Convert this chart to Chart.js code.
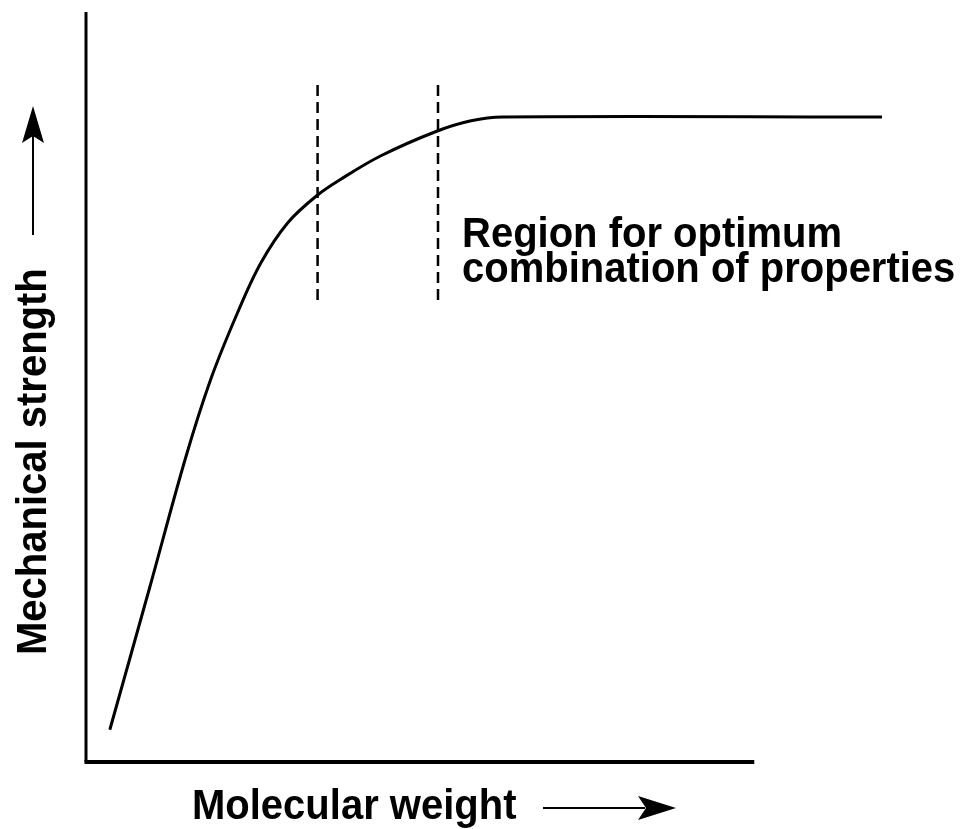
<!DOCTYPE html>
<html>
<head>
<meta charset="utf-8">
<script src="https://cdn.jsdelivr.net/npm/chart.js@4.4.1/dist/chart.umd.min.js"></script>
<style>
  html, body { margin: 0; padding: 0; background: #fff; }
  canvas { display: block; }
</style>
</head>
<body>
<canvas id="mw-chart" width="978" height="829"></canvas>
<script>
// curve (arbitrary units)
const curveX = [0.36, 0.97, 1.5, 1.88, 2.29, 2.64, 3.05, 3.5, 3.85, 4.45, 5.3, 5.82, 6.3, 12.03];
const curveY = [0.43, 2.35, 4.04, 5.09, 5.99, 6.65, 7.19, 7.56, 7.77, 8.08, 8.41, 8.55, 8.6, 8.6];

// dashed lines bounding the optimum region
const markerX = [3.5, 5.32];
const markerY = [6.16, 9.08];

// extent of the drawn axes
const axisX = [0, 10.1];
const axisY = [0, 10];

const regionLabel = ['Region for optimum', 'combination of properties'];
const xLabel = 'Molecular weight';
const yLabel = 'Mechanical strength';

const FONT = 'bold 40px "Liberation Sans", Arial, sans-serif';

// text in the figure is a touch taller than Arial
function tallText(ctx, text, x, y) {
  ctx.save();
  ctx.translate(x, y);
  ctx.scale(1, 1.06);
  ctx.fillText(text, 0, 0);
  ctx.restore();
}

function createChart() {
  const el = document.getElementById('mw-chart');

  const sketchPlugin = {
    id: 'sketchAxes',
    beforeDatasetsDraw(chart) {
      const { ctx } = chart;
      const xs = chart.scales.x;
      const ys = chart.scales.y;
      const x0 = xs.getPixelForValue(axisX[0]);
      const x1 = xs.getPixelForValue(axisX[1]);
      const y0 = ys.getPixelForValue(axisY[0]);
      const y1 = ys.getPixelForValue(axisY[1]);

      ctx.save();
      ctx.strokeStyle = '#000';
      ctx.lineWidth = 3;
      ctx.beginPath();
      ctx.moveTo(x0, y1);
      ctx.lineTo(x0, y0);
      ctx.stroke();
      ctx.lineWidth = 4;
      ctx.beginPath();
      ctx.moveTo(x0 - 1.5, y0);
      ctx.lineTo(x1, y0);
      ctx.stroke();
      ctx.restore();
    },
    afterDraw(chart) {
      const { ctx } = chart;
      const xs = chart.scales.x;
      const ys = chart.scales.y;

      ctx.save();
      ctx.fillStyle = '#000';
      ctx.strokeStyle = '#000';
      ctx.font = FONT;
      ctx.textBaseline = 'alphabetic';
      ctx.textAlign = 'left';

      // region label, just right of the second dashed line
      const rx = xs.getPixelForValue(markerX[1]) + 24;
      const ry = ys.getPixelForValue(6.87);
      tallText(ctx, regionLabel[0], rx, ry);
      tallText(ctx, regionLabel[1], rx, ry + 35);

      // x label with arrow
      tallText(ctx, xLabel, 192, 819);
      ctx.lineWidth = 2;
      ctx.beginPath();
      ctx.moveTo(543, 808);
      ctx.lineTo(645, 808);
      ctx.stroke();
      ctx.beginPath();
      ctx.moveTo(676, 808);
      ctx.lineTo(638, 796);
      ctx.lineTo(646, 808);
      ctx.lineTo(638, 820);
      ctx.closePath();
      ctx.fill();

      // y label with arrow
      ctx.save();
      ctx.translate(46, 655);
      ctx.rotate(-Math.PI / 2);
      tallText(ctx, yLabel, 0, 0);
      ctx.restore();
      ctx.beginPath();
      ctx.moveTo(33, 235);
      ctx.lineTo(33, 135);
      ctx.stroke();
      ctx.beginPath();
      ctx.moveTo(33, 106);
      ctx.lineTo(22, 143);
      ctx.lineTo(33, 136);
      ctx.lineTo(44, 143);
      ctx.closePath();
      ctx.fill();

      ctx.restore();
    }
  };

  const curve = curveX.map((x, i) => ({ x, y: curveY[i] }));
  const markers = markerX.map((x) => ({
    data: markerY.map((y) => ({ x, y })),
    borderColor: '#000',
    borderWidth: 2.5,
    borderDash: [11, 6],
    pointRadius: 0,
    fill: false,
    clip: false,
  }));

  new Chart(el, {
    type: 'line',
    data: {
      datasets: [
        {
          label: 'Mechanical strength',
          data: curve,
          borderColor: '#000',
          borderWidth: 3,
          pointRadius: 0,
          tension: 0.35,
          fill: false,
          clip: false,
        },
        ...markers,
      ],
    },
    options: {
      responsive: false,
      animation: false,
      layout: { padding: { left: 86, right: 98, top: 12, bottom: 67 } },
      scales: {
        x: { type: 'linear', min: 0, max: 12, display: false },
        y: { type: 'linear', min: 0, max: 10, display: false },
      },
      plugins: {
        legend: { display: false },
        tooltip: { enabled: false },
      },
    },
    plugins: [sketchPlugin],
  });
}

createChart();
</script>
</body>
</html>
